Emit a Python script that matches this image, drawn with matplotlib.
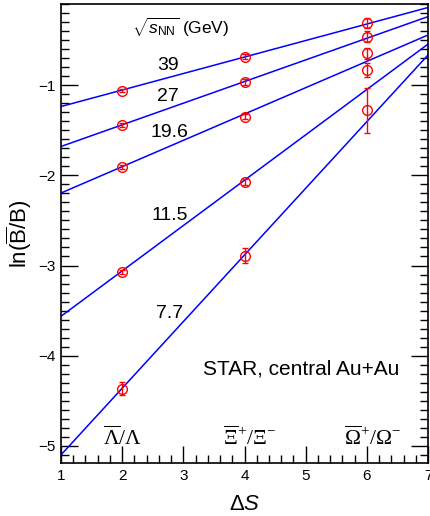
import matplotlib
matplotlib.use("Agg")
import matplotlib.pyplot as plt
from matplotlib.ticker import MultipleLocator
import numpy as np

plt.rcParams['font.family'] = ['Liberation Sans', 'DejaVu Sans']
plt.rcParams['mathtext.fontset'] = 'custom'
plt.rcParams['mathtext.rm'] = 'Liberation Serif'
plt.rcParams['mathtext.sf'] = 'Liberation Sans'
plt.rcParams['mathtext.it'] = 'Liberation Sans:italic'

# data
energies = ['39', '27', '19.6', '11.5', '7.7']
dS = [2, 4, 6]
ln_ratio = {
    '39':   [-1.06, -0.683, -0.313],
    '27':   [-1.443, -0.967, -0.462],
    '19.6': [-1.908, -1.348, -0.646],
    '11.5': [-3.07, -2.074, -0.834],
    '7.7':  [-4.367, -2.89, -1.281],
}
ln_err = {
    '39':   [0.02, 0.025, 0.055],
    '27':   [0.02, 0.03, 0.06],
    '19.6': [0.02, 0.03, 0.06],
    '11.5': [0.025, 0.035, 0.08],
    '7.7':  [0.07, 0.08, 0.25],
}
# straight-line fits (slope, intercept at dS=0)
fit_slope = {'39': 0.183, '27': 0.240, '19.6': 0.292, '11.5': 0.503, '7.7': 0.739}
fit_icpt = {'39': -1.420, '27': -1.920, '19.6': -2.488, '11.5': -4.066, '7.7': -5.839}

# label positions (dS, y)
lab_pos = {'39': (2.75, -0.78), '27': (2.75, -1.13), '19.6': (2.78, -1.53),
           '11.5': (2.78, -2.44), '7.7': (2.78, -3.53)}
species = [r'$\overline{\mathrm{\Lambda}}/\mathrm{\Lambda}$',
           r'$\overline{\mathrm{\Xi}}^{+}/\mathrm{\Xi}^{-}$',
           r'$\overline{\mathrm{\Omega}}^{+}/\mathrm{\Omega}^{-}$']
species_x = [2.0, 4.08, 6.1]

fig = plt.figure(figsize=(4.3, 5.16), dpi=100)
ax = fig.add_axes([61/430, 53/516, 367/430, 459/516])

xx = np.array([1.0, 7.0])
for e in energies:
    ax.plot(xx, fit_slope[e]*xx + fit_icpt[e], color='#0000ff', lw=1.1, zorder=2)
    ax.errorbar(dS, ln_ratio[e], yerr=ln_err[e], fmt='o', mfc='none', mec='#ff0000',
                ecolor='#ff0000', ms=7, mew=1.0, elinewidth=1.0, capsize=2, zorder=3)
    ax.text(lab_pos[e][0], lab_pos[e][1], e, fontsize=14, ha='center', va='center')

ax.text(2.95, -0.36, r'$\sqrt{\mathit{s}_{\mathsf{NN}}}$ (GeV)', fontsize=12.5,
        ha='center', va='center')
ax.text(6.54, -4.15, 'STAR, central Au+Au', fontsize=15, ha='right', va='center')
for sx, sl in zip(species_x, species):
    ax.text(sx, -4.92, sl, fontsize=15.5, ha='center', va='center')

ax.set_xlim(1, 7)
ax.set_ylim(-5.19, -0.1)
ax.xaxis.set_major_locator(MultipleLocator(1))
ax.xaxis.set_minor_locator(MultipleLocator(0.2))
ax.yaxis.set_major_locator(MultipleLocator(1))
ax.yaxis.set_minor_locator(MultipleLocator(0.1))
ax.tick_params(which='both', direction='in', top=False, right=True, labelsize=11, width=1.0)
ax.tick_params(which='major', length=12, pad=4)
ax.tick_params(which='minor', length=6)
for s in ax.spines.values():
    s.set_linewidth(1.2)

ax.set_xlabel(r'$\mathsf{\Delta}\mathit{S}$', fontsize=16, labelpad=8)
ax.set_ylabel(r'$\mathsf{ln(\overline{B}/B)}$', fontsize=16, labelpad=3)

fig.savefig('out.png', dpi=100)
